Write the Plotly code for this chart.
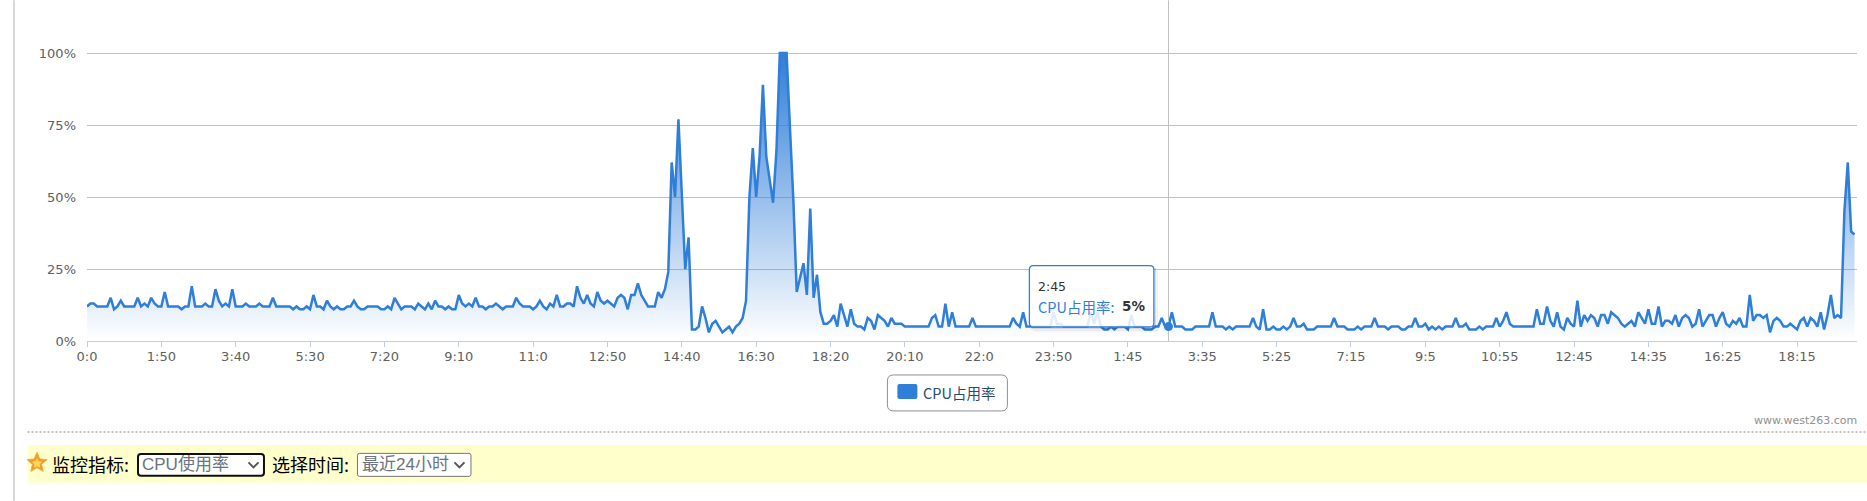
import math
import plotly.graph_objects as go

tick_labels = ["0:0", "1:50", "3:40", "5:30", "7:20", "9:10", "11:0", "12:50", "14:40", "16:30",
               "18:20", "20:10", "22:0", "23:50", "1:45", "3:35", "5:25", "7:15", "9:5", "10:55",
               "12:45", "14:35", "16:25", "18:15"]
cpu = [
    12,13,13,12,12,12,12,15,11,12, 14,12,12,12,12,15,12,13,12,15,
    13,12,12,17,12,12,12,12,11,12, 12,19,12,12,12,13,12,12,18,14,
    12,13,12,18,12,12,12,13,12,12, 12,13,12,12,12,15,12,12,12,12,
    12,11,12,11,11,12,11,16,12,12, 11,14,12,11,12,11,11,12,12,14,
    12,11,11,12,12,12,12,11,11,12, 11,15,13,11,12,12,12,11,13,12,
    11,13,11,14,12,12,11,12,11,11, 16,13,12,13,12,15,12,12,11,12,
    12,13,12,11,12,12,12,15,13,12, 12,12,11,12,14,12,11,13,12,16,
    12,12,13,13,12,19,15,13,16,13, 12,17,14,13,14,13,12,15,16,15,
    11,16,16,20,16,14,12,12,12,17, 15,18,24,62,50,77,52,25,36,4,
    4,5,12,8,3,6,7,5,3,4, 5,3,5,6,8,14,50,67,50,64,
    89,64,55,48,66,100,100,100,74,49, 17,22,27,16,46,15,23,10,6,6,
    7,9,5,13,9,5,11,6,5,5, 4,8,7,4,9,8,7,5,8,6,
    6,6,5,5,5,5,5,5,5,5, 8,9,5,5,13,5,10,5,5,5,
    5,5,8,5,5,5,5,5,5,5, 5,5,5,5,8,6,5,10,5,5,
    5,5,5,5,5,5,10,6,6,5, 5,5,5,5,5,5,5,10,6,10,
    5,4,4,5,4,5,5,5,4,9, 5,5,5,4,4,4,5,5,8,5,
    5,10,5,5,5,4,4,4,5,5, 5,5,5,10,5,5,5,4,5,4,
    5,5,5,5,5,8,5,4,11,4, 4,5,4,4,5,4,5,8,5,5,
    6,4,4,4,5,5,5,5,5,8, 5,5,5,4,4,4,5,4,5,5,
    5,8,5,5,5,4,5,5,5,4, 4,5,5,8,5,5,6,4,5,4,
    5,4,5,5,5,8,5,5,6,4, 4,4,5,4,5,5,5,8,5,7,
    10,6,5,5,5,5,5,5,5,11, 6,6,12,7,5,10,5,4,8,6,
    5,14,5,9,7,9,8,5,9,9, 6,10,9,8,6,5,6,7,5,10,
    8,6,11,6,6,12,5,7,7,6, 9,5,8,9,8,5,6,11,5,7,
    9,9,5,8,10,6,5,7,6,8, 5,5,16,7,9,9,8,9,3,7,
    8,7,5,5,6,5,4,7,8,5, 8,7,5,10,4,9,16,8,9,8,
    45,62,38,37,
]
series_name = "CPU占用率"
hover_index = 320
hover_label = "2:45"
metric_options = "CPU使用率"
time_options = "最近24小时"

W, H = 1867, 501
L, R, T, B = 86.5, 10.3, 50.7, 160.0
BLUE = "#2f7ed8"
AXIS_FONT = "DejaVu Sans"
UI_FONT = "Liberation Sans, Noto Sans CJK SC"
CJK_FONT = "Noto Sans CJK SC"


def X(px):
    return (px - L) / (W - L - R)


def Y(py):
    return (H - B - py) / (H - T - B)


def rect(x0, y0, x1, y1, **kw):
    return dict(type="rect", xref="paper", yref="paper", x0=X(x0), y0=Y(y0), x1=X(x1), y1=Y(y1), **kw)


def rrect(x0, y0, x1, y1, r, **kw):
    a, b, c, d = X(x0), X(x1), Y(y0), Y(y1)
    p = (f"M{X(x0 + r)},{c} L{X(x1 - r)},{c} Q{b},{c} {b},{Y(y0 + r)} L{b},{Y(y1 - r)} Q{b},{d} {X(x1 - r)},{d} "
         f"L{X(x0 + r)},{d} Q{a},{d} {a},{Y(y1 - r)} L{a},{Y(y0 + r)} Q{a},{c} {X(x0 + r)},{c} Z")
    return dict(type="path", xref="paper", yref="paper", path=p, **kw)


def line(x0, y0, x1, y1, color, width, dash="solid"):
    return dict(type="line", xref="paper", yref="paper", x0=X(x0), y0=Y(y0), x1=X(x1), y1=Y(y1),
                line=dict(color=color, width=width, dash=dash))


def poly(pts, **kw):
    p = "M" + " L".join(f"{X(a)},{Y(b)}" for a, b in pts) + " Z"
    return dict(type="path", xref="paper", yref="paper", path=p, **kw)


def star(cx, cy, ro, ri):
    pts = []
    for i in range(10):
        r = ro if i % 2 == 0 else ri
        ang = -math.pi / 2 + i * math.pi / 5
        pts.append((cx + r * math.cos(ang), cy + r * math.sin(ang)))
    return pts


def chevron(cx, cy, color):
    p = f"M{X(cx - 5)},{Y(cy - 2.5)} L{X(cx)},{Y(cy + 2.5)} L{X(cx + 5)},{Y(cy - 2.5)}"
    return dict(type="path", xref="paper", yref="paper", path=p, line=dict(color=color, width=2))


def text(px, py, s, size, color, font=UI_FONT, anchor="left"):
    return dict(xref="paper", yref="paper", x=X(px), y=Y(py), text=s, showarrow=False, xanchor=anchor,
                yanchor="middle", font=dict(family=font, size=size, color=color), align="left",
                borderpad=0, borderwidth=0)


xs = list(range(len(cpu)))
tickvals = xs[::22]

fig = go.Figure()
fig.add_trace(go.Scatter(
    x=xs, y=cpu, mode="lines", name=series_name, showlegend=False,
    line=dict(color=BLUE, width=2.5),
    fill="tozeroy",
    fillgradient=dict(type="vertical", start=100, stop=0,
                      colorscale=[[0, "rgba(47,126,216,1)"], [1, "rgba(47,126,216,0)"]]),
    hovertemplate=series_name + ": %{y}%<extra></extra>",
))

shapes = [
    # page furniture
    line(13.5, 0, 13.5, H, "#cccccc", 1.5),
    line(27, 432, W, 432, "#c4c4c4", 2, "2px,2px"),
    rect(27, 445, W, 483, fillcolor="#ffffcc", line=dict(width=0), layer="below"),
    # crosshair
    dict(type="line", xref="x", yref="paper", x0=hover_index, x1=hover_index, y0=0, y1=Y(0),
         line=dict(color="#c0c0c0", width=1)),
    # hovered point, placed through the data scales
    dict(type="circle", xref="x", yref="y", xsizemode="pixel", ysizemode="pixel",
         xanchor=hover_index, yanchor=cpu[hover_index], x0=-4.5, x1=4.5, y0=-4.5, y1=4.5,
         fillcolor=BLUE, line=dict(width=0)),
    # legend
    rrect(887, 375, 1007, 411, 6, line=dict(color="#909090", width=1), fillcolor="white"),
    rrect(897, 384, 917, 399, 2, line=dict(width=0), fillcolor=BLUE),
    # tooltip shadow + box
    line(1155, 268, 1155, 329, "rgba(0,0,0,0.14)", 1.5),
    line(1031, 328.5, 1155, 328.5, "rgba(0,0,0,0.14)", 1.5),
    line(1157, 270, 1157, 331, "rgba(0,0,0,0.06)", 1.5),
    line(1033, 330.5, 1157, 330.5, "rgba(0,0,0,0.06)", 1.5),
    rrect(1029, 265.5, 1153.5, 327, 4, line=dict(color=BLUE, width=1.3), fillcolor="rgba(255,255,255,0.85)"),
    # star
    poly(star(36.5, 463, 10.5, 4.8), fillcolor="#f39a26", line=dict(color="#f6a93b", width=1)),
    poly(star(36.5, 463.5, 5.5, 2.8), fillcolor="#ffd65a", line=dict(width=0)),
    # selects
    rrect(137.5, 454, 263.5, 476, 3, line=dict(color="#101010", width=2), fillcolor="white"),
    chevron(253, 465, "#555555"),
    rrect(357, 453.5, 470.5, 476.5, 2, line=dict(color="#767676", width=1), fillcolor="white"),
    chevron(459, 465, "#555555"),
]

annotations = [
    text(923, 393, series_name, 14.5, "#274b6d", CJK_FONT),
    text(1038, 286, hover_label, 12.5, "#333333", AXIS_FONT),
    text(1037.5, 306, series_name + ":", 14.5, BLUE, CJK_FONT),
    text(1122, 306, f"<b>{cpu[hover_index]}%</b>", 13.5, "#333333", "DejaVu Sans"),
    text(1856.5, 420.5, "www.west263.com", 11, "#909090", AXIS_FONT, "right"),
    text(51.5, 464.5, "监控指标:", 18, "#000000", CJK_FONT),
    text(142, 464.5, metric_options, 17, "#6b7280", UI_FONT),
    text(271.5, 464.5, "选择时间:", 18, "#000000", CJK_FONT),
    text(361.5, 464.5, time_options, 17, "#6b7280", UI_FONT),
]

fig.update_layout(
    width=W, height=H, autosize=False,
    margin=dict(l=L, r=R, t=T, b=B, pad=0),
    paper_bgcolor="white", plot_bgcolor="white",
    showlegend=False, hovermode="closest",
    shapes=shapes, annotations=annotations,
    xaxis=dict(
        range=[0, (W - R - L) / 3.38], tickmode="array", tickvals=tickvals, ticktext=tick_labels,
        showgrid=False, zeroline=False, showline=True, linecolor="#c0d0e0", linewidth=1,
        ticks="outside", ticklen=5, tickcolor="#c0d0e0", tickwidth=1, tickangle=0,
        ticklabelstandoff=-2,
        tickfont=dict(family=AXIS_FONT, size=13, color="#606060"),
    ),
    yaxis=dict(
        range=[0, 100.7], tickmode="array", tickvals=[0, 25, 50, 75, 100],
        ticktext=["0%", "25%", "50%", "75%", "100%"],
        showgrid=True, gridcolor="#c0c0c0", gridwidth=1, zeroline=False, showline=False,
        ticks="", ticklabelstandoff=10,
        tickfont=dict(family=AXIS_FONT, size=13, color="#606060"),
    ),
)

fig.write_html("out.html", config={"displayModeBar": False},
               post_script="document.body.style.margin='0';document.documentElement.style.overflow='hidden';")
